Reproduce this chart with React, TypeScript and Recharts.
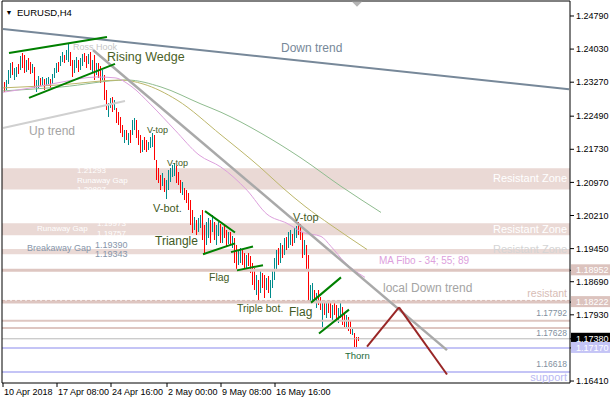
import { ComposedChart, Bar, Line, XAxis, YAxis, ReferenceLine, ReferenceArea, ReferenceDot } from 'recharts';

// EURUSD H4 bars, bar 0 = 10 Apr 2018 00:00
const highs = [
  1.2327, 1.2332, 1.2355, 1.2371, 1.2373, 1.2360, 1.2362, 1.2369, 1.2387, 1.2394,
  1.2390, 1.2378, 1.2383, 1.2373, 1.2369, 1.2362, 1.2332, 1.2341, 1.2337, 1.2339,
  1.2334, 1.2337, 1.2339, 1.2334, 1.2346, 1.2360, 1.2371, 1.2373, 1.2387, 1.2396,
  1.2390, 1.2401, 1.2417, 1.2396, 1.2378, 1.2378, 1.2385, 1.2378, 1.2383, 1.2392,
  1.2394, 1.2387, 1.2392, 1.2396, 1.2378, 1.2390, 1.2371, 1.2371, 1.2364, 1.2355,
  1.2344, 1.2309, 1.2279, 1.2291, 1.2293, 1.2286, 1.2268, 1.2258, 1.2247, 1.2229,
  1.2217, 1.2217, 1.2210, 1.2217, 1.2240, 1.2245, 1.2240, 1.2217, 1.2206, 1.2194,
  1.2201, 1.2194, 1.2189, 1.2201, 1.2210, 1.2206, 1.2148, 1.2130, 1.2114, 1.2118,
  1.2107, 1.2102, 1.2125, 1.2130, 1.2137, 1.2141, 1.2134, 1.2120, 1.2102, 1.2097,
  1.2084, 1.2079, 1.2072, 1.2056, 1.2033, 1.2017, 1.2010, 1.2015, 1.2022, 1.2033,
  1.1999, 1.2005, 1.2015, 1.2010, 1.2022, 1.2005, 1.1999, 1.2005, 1.2001, 1.1994,
  1.1996, 1.1987, 1.1982, 1.1982, 1.1973, 1.1969, 1.1953, 1.1941, 1.1946, 1.1941,
  1.1936, 1.1930, 1.1934, 1.1927, 1.1913, 1.1900, 1.1884, 1.1872, 1.1895, 1.1890,
  1.1884, 1.1877, 1.1881, 1.1872, 1.1895, 1.1923, 1.1941, 1.1946, 1.1959, 1.1953,
  1.1969, 1.1971, 1.1982, 1.1987, 1.1978, 1.1992, 1.1996, 1.2005, 1.2001, 1.1982,
  1.1964, 1.1953, 1.1930, 1.1861, 1.1867, 1.1849, 1.1842, 1.1849, 1.1835, 1.1826,
  1.1826, 1.1821, 1.1826, 1.1819, 1.1815, 1.1821, 1.1815, 1.1808, 1.1819, 1.1812,
  1.1798, 1.1792, 1.1789, 1.1780, 1.1766, 1.1752, 1.1743, 1.1743,
];
const lows = [
  1.2304, 1.2309, 1.2323, 1.2337, 1.2344, 1.2332, 1.2339, 1.2346, 1.2355, 1.2360,
  1.2348, 1.2350, 1.2355, 1.2346, 1.2348, 1.2314, 1.2304, 1.2314, 1.2318, 1.2321,
  1.2309, 1.2318, 1.2323, 1.2314, 1.2323, 1.2337, 1.2348, 1.2350, 1.2364, 1.2373,
  1.2371, 1.2378, 1.2373, 1.2364, 1.2339, 1.2348, 1.2360, 1.2350, 1.2355, 1.2364,
  1.2373, 1.2360, 1.2369, 1.2355, 1.2348, 1.2332, 1.2344, 1.2337, 1.2325, 1.2332,
  1.2286, 1.2263, 1.2247, 1.2268, 1.2258, 1.2263, 1.2233, 1.2229, 1.2210, 1.2201,
  1.2187, 1.2194, 1.2183, 1.2187, 1.2206, 1.2217, 1.2199, 1.2183, 1.2164, 1.2166,
  1.2171, 1.2166, 1.2171, 1.2176, 1.2178, 1.2148, 1.2102, 1.2095, 1.2079, 1.2088,
  1.2074, 1.2058, 1.2079, 1.2097, 1.2109, 1.2111, 1.2095, 1.2091, 1.2072, 1.2068,
  1.2056, 1.2049, 1.2033, 1.1999, 1.1980, 1.1987, 1.1976, 1.1982, 1.1992, 1.1964,
  1.1936, 1.1953, 1.1969, 1.1957, 1.1982, 1.1964, 1.1953, 1.1973, 1.1959, 1.1957,
  1.1969, 1.1950, 1.1955, 1.1953, 1.1946, 1.1913, 1.1895, 1.1907, 1.1913, 1.1907,
  1.1900, 1.1900, 1.1904, 1.1890, 1.1861, 1.1849, 1.1838, 1.1826, 1.1844, 1.1854,
  1.1831, 1.1849, 1.1844, 1.1831, 1.1854, 1.1872, 1.1895, 1.1907, 1.1913, 1.1923,
  1.1930, 1.1941, 1.1946, 1.1953, 1.1950, 1.1959, 1.1969, 1.1976, 1.1964, 1.1923,
  1.1930, 1.1895, 1.1826, 1.1821, 1.1826, 1.1819, 1.1808, 1.1815, 1.1803, 1.1764,
  1.1792, 1.1785, 1.1798, 1.1785, 1.1780, 1.1792, 1.1780, 1.1775, 1.1785, 1.1769,
  1.1762, 1.1766, 1.1757, 1.1750, 1.1746, 1.1720, 1.1718, 1.1734,
];
// u = bullish bar, d = bearish bar
const dirs =
  'duuuduudud' + 'dudduduudu' + 'duuduuuduu' + 'duudduuduu' + 'ddudududdu' + 'dduududddd' +
  'ududuudddu' + 'dduuuddddu' + 'duuuuudddu' + 'ddddduduud' + 'duududuudu' + 'ddududduud' +
  'duddddudud' + 'duduuuudud' + 'uduuduuddd' + 'udduududdu' + 'duddudduud' + 'dudduddd';

// moving averages (MA Fibo 34 / 55 / 89), [bar, price]
const ma34 = [
  [0, 1.2304], [14, 1.2314], [29, 1.2327], [47, 1.2339], [56, 1.2337], [64, 1.2318],
  [74, 1.2275], [86, 1.2217], [98, 1.2160], [109, 1.2132], [122, 1.2079], [132, 1.2024],
  [142, 1.2003], [150, 1.1982], [159, 1.1973], [164, 1.1950], [171, 1.1913], [181, 1.1879],
];
const ma55 = [
  [0, 1.2314], [29, 1.2321], [59, 1.2332], [70, 1.2323], [87, 1.2286], [109, 1.2206],
  [129, 1.2130], [140, 1.2084], [151, 1.2042], [164, 1.1999], [182, 1.1943],
];
const ma89 = [
  [0, 1.2307], [29, 1.2316], [62, 1.2332], [79, 1.2316], [99, 1.2277], [109, 1.2258],
  [129, 1.2210], [149, 1.2153], [169, 1.2088], [189, 1.2028],
];

const timeTicks = [0, 27, 54, 82, 109, 136];
const timeLabels = ['10 Apr 2018', '17 Apr 08:00', '24 Apr 16:00', '2 May 00:00', '9 May 08:00', '16 May 16:00'];
const priceTicks = [1.2479, 1.2403, 1.2327, 1.2249, 1.2173, 1.2097, 1.2021, 1.1945, 1.1869, 1.1793, 1.1641];

const zones = [
  [1.20807, 1.21293],
  [1.19757, 1.2003],
  [1.1932, 1.1944],
];
const levels = [
  { price: 1.18952, kind: 'zone' },
  { price: 1.18222, kind: 'zone' },
  { price: 1.1826, kind: 'dashed' },
  { price: 1.17792, kind: 'thin' },
  { price: 1.17628, kind: 'thin' },
  { price: 1.1738, kind: 'bid' },
  { price: 1.1717, kind: 'lav' },
  { price: 1.16618, kind: 'lav' },
];
const priceBoxes = [
  { price: 1.18952, kind: 'zone' },
  { price: 1.18222, kind: 'zone' },
  { price: 1.1738, kind: 'bid' },
  { price: 1.1717, kind: 'lav' },
];

const trendLines = [
  { kind: 'down', a: [0, 1.2449], b: [283, 1.2311] },
  { kind: 'up', a: [0, 1.2222], b: [61, 1.2284] },
  { kind: 'local', a: [45, 1.2401], b: [222, 1.1712] },
  { kind: 'pattern', a: [3, 1.2394], b: [52, 1.2431] },
  { kind: 'pattern', a: [13, 1.2291], b: [56, 1.2369] },
  { kind: 'pattern', a: [101, 1.2031], b: [116, 1.1982] },
  { kind: 'pattern', a: [100, 1.1932], b: [116, 1.1957] },
  { kind: 'pattern', a: [114, 1.1937], b: [125, 1.195] },
  { kind: 'pattern', a: [117, 1.1895], b: [130, 1.1907] },
  { kind: 'pattern', a: [154, 1.1821], b: [169, 1.1879] },
  { kind: 'pattern', a: [158, 1.175], b: [173, 1.1805] },
  { kind: 'forecast', a: [182, 1.172], b: [198, 1.181] },
  { kind: 'forecast', a: [198, 1.181], b: [222, 1.1656] },
];

const notes = [
  { t: '▼', i: 3, p: 1.2488, tone: 'arrow', anchor: 'middle' },
  { t: 'EURUSD,H4', i: 7, p: 1.2486, tone: 'title' },
  { t: 'Ross Hook', i: 35, p: 1.2408, tone: 'ross' },
  { t: 'Rising Wedge', i: 52, p: 1.2385, tone: 'wedge' },
  { t: 'Down trend', i: 139, p: 1.2406, tone: 'down' },
  { t: 'Up trend', i: 13, p: 1.2215, tone: 'up' },
  { t: 'V-top', i: 72, p: 1.2217, tone: 'pat9' },
  { t: 'V-top', i: 82, p: 1.2141, tone: 'pat9' },
  { t: 'V-bot.', i: 75, p: 1.2038, tone: 'pat11' },
  { t: 'Triangle', i: 76, p: 1.1962, tone: 'pat12' },
  { t: 'Flag', i: 103, p: 1.1879, tone: 'pat10' },
  { t: 'Triple bot.', i: 117, p: 1.1808, tone: 'pat10' },
  { t: 'Flag', i: 143, p: 1.1801, tone: 'pat12' },
  { t: 'V-top', i: 145, p: 1.2017, tone: 'pat11' },
  { t: 'Thorn', i: 171, p: 1.17, tone: 'thorn' },
  { t: 'local Down trend', i: 190, p: 1.1856, tone: 'local' },
  { t: 'MA Fibo - 34; 55; 89', i: 188, p: 1.1918, tone: 'ma' },
  { t: 'resistant', i: 282, p: 1.1842, tone: 'resist', anchor: 'end' },
  { t: '1.17792', i: 282, p: 1.1796, tone: 'lvl', anchor: 'end' },
  { t: '1.17628', i: 282, p: 1.1752, tone: 'lvl', anchor: 'end' },
  { t: '1.16618', i: 282, p: 1.1681, tone: 'lvl', anchor: 'end' },
  { t: 'support', i: 282, p: 1.1651, tone: 'sup', anchor: 'end' },
  { t: 'Resistant Zone', i: 282, p: 1.2107, tone: 'zone', anchor: 'end' },
  { t: 'Resistant Zone', i: 282, p: 1.1989, tone: 'zone', anchor: 'end' },
  { t: 'Resistant Zone', i: 282, p: 1.1943, tone: 'zoneFaint', anchor: 'end' },
  { t: '1.21293', i: 37, p: 1.2125, tone: 'zoneSmall' },
  { t: 'Runaway Gap', i: 37, p: 1.2103, tone: 'zoneSmall' },
  { t: '1.20807', i: 37, p: 1.2081, tone: 'zoneSmall' },
  { t: 'Runaway Gap', i: 17, p: 1.1992, tone: 'zoneSmall' },
  { t: '1.19973', i: 47, p: 1.2003, tone: 'zoneSmall' },
  { t: '1.19757', i: 47, p: 1.1980, tone: 'zoneSmall' },
  { t: 'Breakaway Gap', i: 12, p: 1.1946, tone: 'gap' },
  { t: '1.19390', i: 46, p: 1.1954, tone: 'gap' },
  { t: '1.19343', i: 46, p: 1.1932, tone: 'gap' },
];

const FONT = '"Liberation Sans", Arial, sans-serif';
const PAT = '#3f5a24';
const tones: Record<string, { fill: string; size: number }> = {
  arrow: { fill: '#000', size: 7 },
  title: { fill: '#000', size: 9.5 },
  ross: { fill: '#c6c6c6', size: 9 },
  wedge: { fill: '#4b6126', size: 12.5 },
  pat9: { fill: PAT, size: 9 },
  pat10: { fill: PAT, size: 10.5 },
  pat11: { fill: PAT, size: 11 },
  pat12: { fill: PAT, size: 12 },
  thorn: { fill: '#1d6b3a', size: 9.5 },
  down: { fill: '#778899', size: 12 },
  up: { fill: '#a4a4a4', size: 12 },
  local: { fill: '#a4a4a4', size: 12 },
  ma: { fill: '#dda0dd', size: 10 },
  zone: { fill: '#ffffff', size: 11 },
  zoneSmall: { fill: '#ffffff', size: 8 },
  zoneFaint: { fill: '#d4d4d4', size: 11 },
  gap: { fill: '#8796aa', size: 9 },
  resist: { fill: '#d7bcb5', size: 10.5 },
  lvl: { fill: '#8290a0', size: 8.5 },
  sup: { fill: '#b9b9f2', size: 11 },
};
const lineStyle: Record<string, { stroke: string; w: number }> = {
  down: { stroke: '#778899', w: 2 },
  up: { stroke: '#d0d0d0', w: 2 },
  local: { stroke: '#a9a9a9', w: 2.5 },
  pattern: { stroke: '#008000', w: 2 },
  forecast: { stroke: '#992626', w: 2 },
};
const levelStyle: Record<string, { stroke: string; w: number; dash?: string }> = {
  zone: { stroke: '#dec6c1', w: 3 },
  dashed: { stroke: '#d8b9b2', w: 1, dash: '3 2' },
  thin: { stroke: '#dec6c1', w: 2 },
  bid: { stroke: '#b8b8b8', w: 1 },
  lav: { stroke: '#c4c4f6', w: 2 },
};
const boxFill: Record<string, string> = { zone: '#dcc3be', bid: '#000000', lav: '#c4c4f6' };

const toMap = (pts: number[][]) => new Map(pts.map(([i, p]) => [i, p]));
const m34 = toMap(ma34);
const m55 = toMap(ma55);
const m89 = toMap(ma89);

const rows = Array.from({ length: 284 }, (_, i) => ({
  i,
  range: i < highs.length ? [lows[i], highs[i]] : null,
  up: dirs[i] === 'u',
  ma34: m34.get(i),
  ma55: m55.get(i),
  ma89: m89.get(i),
}));

const Candle = (props: any) => {
  const { x, y, width, height, payload } = props;
  if (!payload || payload.range == null) return null;
  const top = Math.min(y, y + height);
  return (
    <rect
      x={Math.round(x + width / 2)}
      y={top}
      width={1}
      height={Math.max(Math.abs(height), 1)}
      fill={payload.up ? '#008b8b' : '#ff0000'}
      shapeRendering="crispEdges"
    />
  );
};

const TimeTick = (props: any) => {
  const { x, y, payload } = props;
  const k = timeTicks.indexOf(payload.value);
  return (
    <text x={x + 1} y={y} dy="0.71em" textAnchor="start" fontSize={9} fontFamily={FONT} fill="#000">
      {timeLabels[k]}
    </text>
  );
};

const PriceTick = (props: any) => {
  const { x, y, payload } = props;
  const box = priceBoxes.find((b) => Math.abs(b.price - payload.value) < 1e-7);
  const label = Number(payload.value).toFixed(5);
  return (
    <g>
      {box && <rect x={x - 5} y={y - 6} width={40} height={11} fill={boxFill[box.kind]} />}
      <text x={x} y={y} dy="0.35em" textAnchor="start" fontSize={9} fontFamily={FONT} fill={box ? '#fff' : '#000'}>
        {label}
      </text>
    </g>
  );
};

const DOMAIN = [1.16365, 1.25134];

export default function App() {
  return (
    <div style={{ position: 'absolute', left: 0, top: 0, width: 610, height: 400, background: '#fff' }}>
      <ComposedChart width={610} height={400} data={rows} margin={{ top: 0, right: 0, bottom: 0, left: 0 }}>
        <XAxis
          dataKey="i"
          type="category"
          ticks={timeTicks}
          interval={0}
          tickSize={4}
          tickMargin={2}
          height={17}
          tick={TimeTick}
          axisLine={{ stroke: '#000' }}
          tickLine={{ stroke: '#000' }}
        />
        <XAxis xAxisId="top" dataKey="i" orientation="top" height={1} tick={false} tickLine={false} axisLine={{ stroke: '#000' }} />
        <YAxis
          orientation="right"
          type="number"
          domain={DOMAIN}
          allowDataOverflow
          ticks={[...priceTicks, ...priceBoxes.map((b) => b.price)]}
          interval={0}
          width={40}
          tickSize={4}
          tickMargin={2}
          tick={PriceTick}
          axisLine={{ stroke: '#000' }}
          tickLine={{ stroke: '#000' }}
        />
        <YAxis yAxisId="frame" orientation="left" type="number" domain={DOMAIN} allowDataOverflow width={2} tick={false} tickLine={false} axisLine={{ stroke: '#000' }} />

        {zones.map(([lo, hi], k) => (
          <ReferenceArea key={'z' + k} y1={lo} y2={hi} fill="#ead9d5" fillOpacity={1} stroke="none" />
        ))}
        {levels.map((l, k) => {
          const s = levelStyle[l.kind];
          return <ReferenceLine key={'l' + k} y={l.price} stroke={s.stroke} strokeWidth={s.w} strokeDasharray={s.dash} />;
        })}

        <Line dataKey="ma89" stroke="#8fbc8f" strokeWidth={1} dot={false} activeDot={false} connectNulls type="monotone" isAnimationActive={false} />
        <Line dataKey="ma55" stroke="#bdb76b" strokeWidth={1} dot={false} activeDot={false} connectNulls type="monotone" isAnimationActive={false} />
        <Line dataKey="ma34" stroke="#dda0dd" strokeWidth={1} dot={false} activeDot={false} connectNulls type="monotone" isAnimationActive={false} />

        <Bar dataKey="range" barSize={1} shape={Candle} isAnimationActive={false} />

        {trendLines.map((t, k) => {
          const s = lineStyle[t.kind];
          return (
            <ReferenceLine
              key={'t' + k}
              segment={[{ x: t.a[0], y: t.a[1] }, { x: t.b[0], y: t.b[1] }]}
              stroke={s.stroke}
              strokeWidth={s.w}
            />
          );
        })}

        <ReferenceDot
          x={177}
          y={1.2507}
          r={0}
          shape={(s: any) => (
            <path d={`M${s.cx - 5},${s.cy - 2} L${s.cx + 5},${s.cy - 2} L${s.cx},${s.cy + 3} Z`} fill="#b4b4b4" />
          )}
        />
        {notes.map((n, k) => {
          const tone = tones[n.tone];
          return (
            <ReferenceDot
              key={'n' + k}
              x={n.i}
              y={n.p}
              r={0}
              shape={(s: any) => (
                <text
                  x={s.cx}
                  y={s.cy}
                  dy="0.35em"
                  textAnchor={(n as any).anchor ?? 'start'}
                  fontSize={tone.size}
                  fontFamily={FONT}
                  fill={tone.fill}
                >
                  {n.t}
                </text>
              )}
            />
          );
        })}
      </ComposedChart>
    </div>
  );
}
